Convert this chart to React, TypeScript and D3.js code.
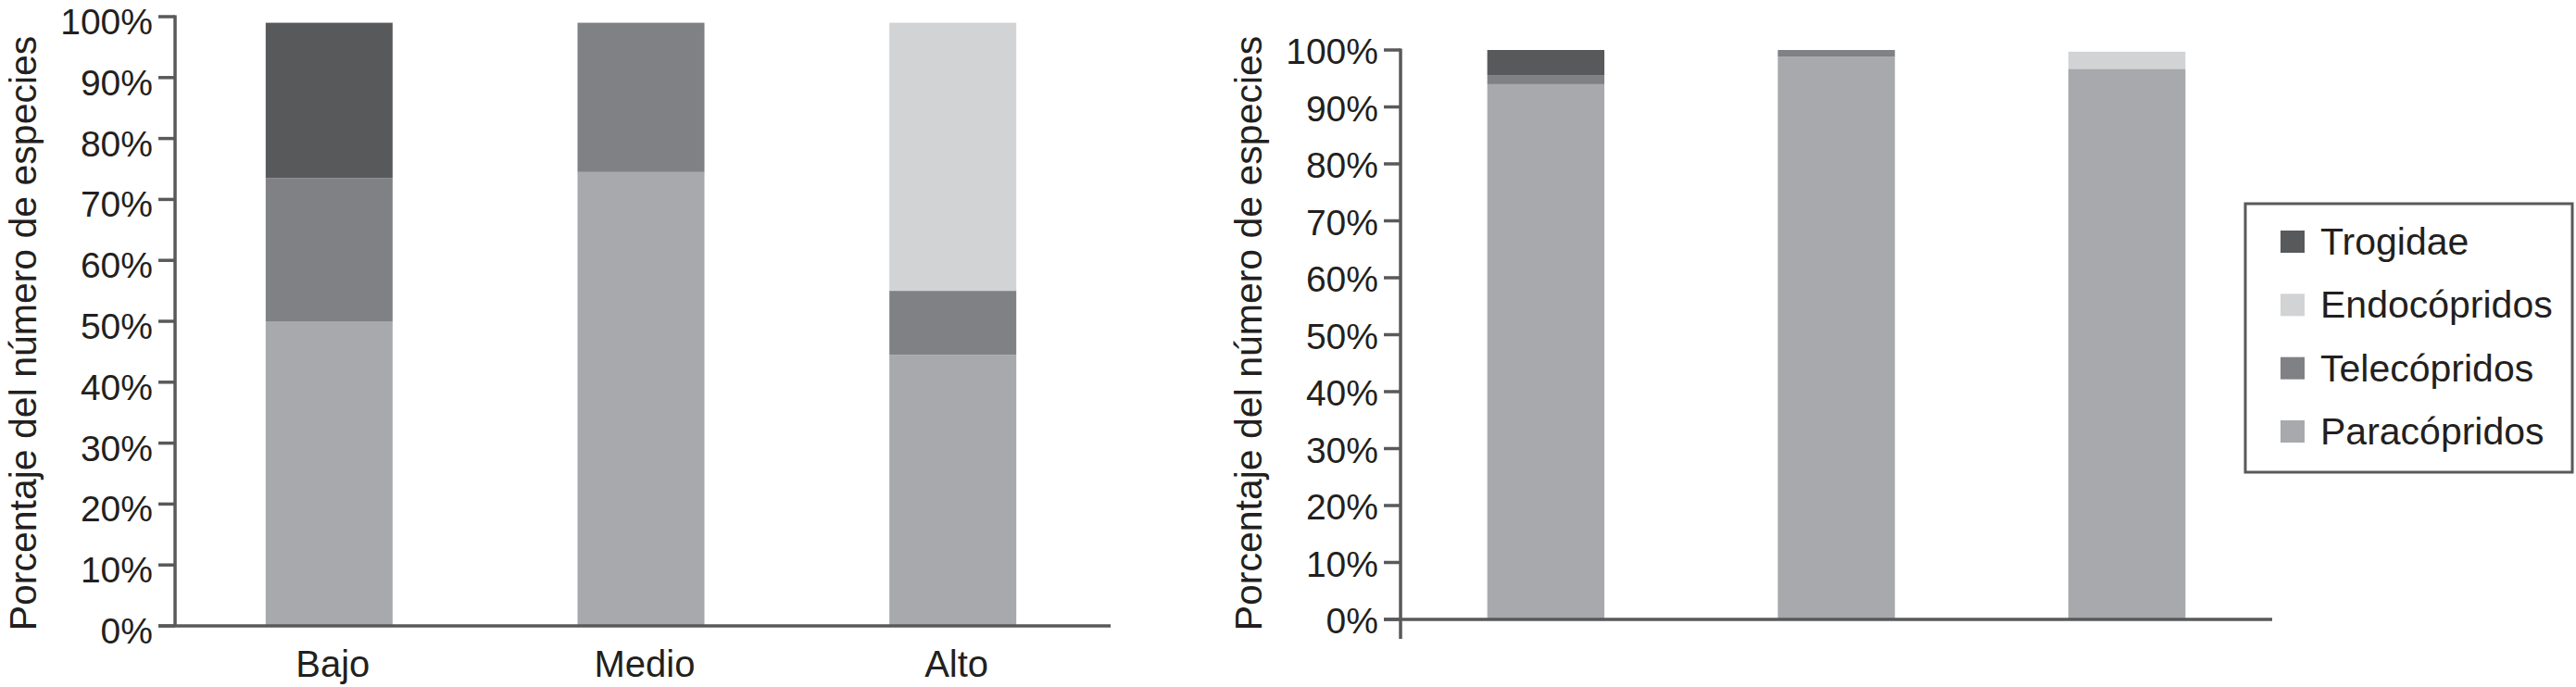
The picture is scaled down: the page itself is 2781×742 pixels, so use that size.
import React from "react";
import * as d3 from "d3";

// ---- data ----
const categoriesLeft = ["Bajo", "Medio", "Alto"];
const categoriesRight = ["A", "B", "C"]; // right panel has no category labels
const seriesNames = ["Paracópridos", "Telecópridos", "Endocópridos", "Trogidae"];

const paracopridosLeft = [50, 74.5, 44.5];
const telecopridosLeft = [23.5, 24.5, 10.5];
const endocopridosLeft = [0, 0, 44];
const trogidaeLeft = [25.5, 0, 0];

const paracopridosRight = [94, 98.8, 96.7];
const telecopridosRight = [1.6, 1.2, 0];
const endocopridosRight = [0, 0, 3];
const trogidaeRight = [4.4, 0, 0];

const yTicks = [0, 10, 20, 30, 40, 50, 60, 70, 80, 90, 100];
const legendOrder = ["Trogidae", "Endocópridos", "Telecópridos", "Paracópridos"];

const colors: Record<string, string> = {
  Trogidae: "#58595b",
  Endocópridos: "#d1d3d4",
  Telecópridos: "#808184",
  Paracópridos: "#a7a9ac",
};

const AXIS = "#58595b";
const TEXT = "#231f20";
const FONT = "'Liberation Sans', Arial, Helvetica, sans-serif";

function buildRows(cats: string[], p: number[], t: number[], e: number[], tr: number[]) {
  return cats.map((c, i) => ({
    cat: c,
    "Paracópridos": p[i],
    "Telecópridos": t[i],
    "Endocópridos": e[i],
    Trogidae: tr[i],
  }));
}

type PanelProps = {
  cats: string[];
  rows: any[];
  axisX: number;
  xEnd: number;
  bandRange: [number, number];
  padInner: number;
  y0: number;
  y100: number;
  axisBottom: number;
  labelDy: number;
  titleX: number;
  showCats: boolean;
};

function Panel(props: PanelProps) {
  const { cats, rows, axisX, xEnd, bandRange, padInner, y0, y100, axisBottom, labelDy, titleX, showCats } = props;
  const x = d3.scaleBand<string>().domain(cats).range(bandRange).paddingInner(padInner).paddingOuter(padInner / 2);
  const y = d3.scaleLinear().domain([0, 100]).range([y0, y100]);
  const stack = d3.stack<any>().keys(seriesNames);
  const layers = stack(rows);
  const tickLen = 18;
  return (
    <g>
      {layers.map((layer) => (
        <g key={layer.key} fill={colors[layer.key]}>
          {layer.map((d, i) =>
            d[1] - d[0] > 0 ? (
              <rect
                key={i}
                x={x(cats[i])}
                width={x.bandwidth()}
                y={y(d[1])}
                height={y(d[0]) - y(d[1])}
              />
            ) : null
          )}
        </g>
      ))}
      {/* y axis */}
      <line x1={axisX} x2={axisX} y1={y(100) - 1.5} y2={axisBottom} stroke={AXIS} strokeWidth={3.5} />
      {yTicks.map((t) => (
        <g key={t}>
          <line x1={axisX - tickLen} x2={axisX} y1={y(t)} y2={y(t)} stroke={AXIS} strokeWidth={3.5} />
          <text
            x={axisX - tickLen - 6}
            y={y(t) + labelDy}
            textAnchor="end"
            fontFamily={FONT}
            fontSize={39}
            fill={TEXT}
          >
            {t}%
          </text>
        </g>
      ))}
      {/* x axis */}
      <line x1={axisX - tickLen} x2={xEnd} y1={y(0)} y2={y(0)} stroke={AXIS} strokeWidth={3.5} />
      {showCats &&
        cats.map((c) => (
          <text
            key={c}
            x={(x(c) as number) + x.bandwidth() / 2 + 4}
            y={731}
            textAnchor="middle"
            fontFamily={FONT}
            fontSize={40}
            fill={TEXT}
          >
            {c}
          </text>
        ))}
      <text
        transform={`translate(${titleX},360) rotate(-90)`}
        textAnchor="middle"
        fontFamily={FONT}
        fontSize={41}
        fill={TEXT}
      >
        Porcentaje del número de especies
      </text>
    </g>
  );
}

export default function App() {
  const rowsLeft = buildRows(categoriesLeft, paracopridosLeft, telecopridosLeft, endocopridosLeft, trogidaeLeft);
  const rowsRight = buildRows(categoriesRight, paracopridosRight, telecopridosRight, endocopridosRight, trogidaeRight);
  const legendY = d3.scalePoint<string>().domain(legendOrder).range([261, 466]);
  return (
    <svg
      width={2781}
      height={742}
      style={{ position: "absolute", left: 0, top: 0, background: "#fff" }}
    >
      <rect x={0} y={0} width={2781} height={742} fill="#fff" />
      <Panel
        cats={categoriesLeft}
        rows={rowsLeft}
        axisX={189}
        xEnd={1199}
        bandRange={[187, 1197]}
        padInner={0.593}
        y0={676}
        y100={18}
        axisBottom={677}
        labelDy={19}
        titleX={39}
        showCats={true}
      />
      <Panel
        cats={categoriesRight}
        rows={rowsRight}
        axisX={1512}
        xEnd={2453}
        bandRange={[1512, 2453]}
        padInner={0.597}
        y0={669}
        y100={54}
        axisBottom={690}
        labelDy={15}
        titleX={1362}
        showCats={false}
      />
      {/* legend */}
      <rect x={2424} y={220} width={353} height={290} fill="none" stroke={AXIS} strokeWidth={3} />
      {legendOrder.map((k) => (
        <g key={k}>
          <rect x={2462} y={(legendY(k) as number) - 12} width={26} height={24} fill={colors[k]} />
          <text
            x={2505}
            y={(legendY(k) as number) + 14}
            fontFamily={FONT}
            fontSize={41}
            fill={TEXT}
          >
            {k}
          </text>
        </g>
      ))}
    </svg>
  );
}
